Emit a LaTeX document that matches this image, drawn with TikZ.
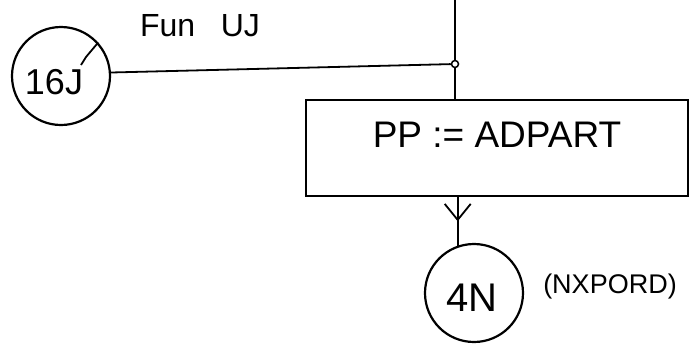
\documentclass[tikz,border=0pt]{standalone}
\usepackage{fontspec}
\setmainfont{Liberation Sans}
\usetikzlibrary{decorations.markings,arrows.meta}
\begin{document}
\begin{tikzpicture}[x=1pt,y=-1pt,
  ink/.style={line width=1.8pt,black},
  conn/.style={draw,circle,line width=2.2pt,inner sep=0pt,minimum size=98pt},
  label/.style={inner sep=0pt},
  midarrow/.style={postaction={decorate},decoration={markings,mark=at position 0.5 with {\arrow[line width=1.8pt]{Straight Barb[length=16pt,width=26pt]}}}}]
\useasboundingbox (0,0) rectangle (691,349);
% connector circles
\node[conn] (c16) at (61,76) {};
\node[label,font=\fontsize{36}{36}\selectfont] (t16) at (54,82) {16J};
\node[conn] (c4) at (474,293) {};
\node[label,font=\fontsize{40}{40}\selectfont] (t4) at (472,298) {4N};
% process box
\node[draw,line width=2pt,minimum width=382pt,minimum height=96pt,inner sep=0pt] (box) at (497,148) {};
\node[label,font=\fontsize{37}{37}\selectfont] (tbox) at (497,135) {PP := ADPART};
% labels
\node[label,font=\fontsize{27}{27}\selectfont] (tnx) at (610,287) {(NXPORD)};
\node[label,font=\fontsize{32}{32}\selectfont] (tfun) at (200,26) {Fun\hspace{0.8em}UJ};
% junction and connectors
\coordinate (top) at (455,0);
\node[circle,draw,line width=1.5pt,minimum size=7pt,inner sep=0pt] (j) at (455,64) {};
\coordinate (jhook) at (81,65);
\draw[ink] (top) -- (j);
\draw[ink] (j) -- (box.north -| j);
\draw[ink] (c16.4) -- (j);
\draw[ink] (jhook) -- (86,57) -- (c16.42);
\draw[ink,midarrow] (box.south -| c4.109) -- (c4.109);
\end{tikzpicture}
\end{document}
